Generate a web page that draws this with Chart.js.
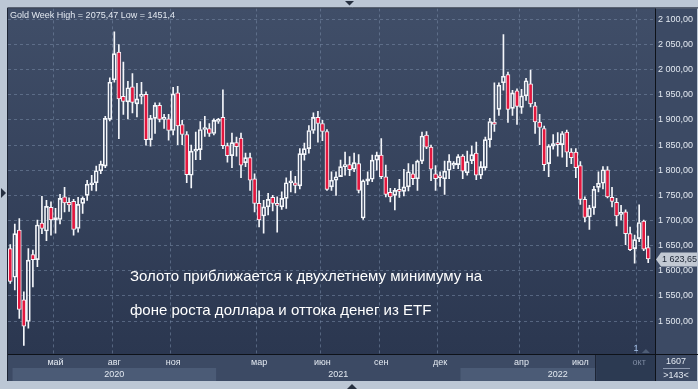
<!DOCTYPE html>
<html><head><meta charset="utf-8">
<script src="https://cdn.jsdelivr.net/npm/chart.js@4.4.1/dist/chart.umd.min.js"></script>
<style>html,body{margin:0;padding:0;background:#bcc7d5;overflow:hidden}</style>
</head><body><canvas id="c" width="698" height="389"></canvas>
<script>
// ---- data (weekly gold candles) ----
const barCount = 143; // visible slots (last one empty)
const categories = Array.from({length: barCount}, (_, i) => i + 1);
const opens = [
1644,1587,1681,1542,1499,1632,1622,1695,1679,1726,
1701,1702,1747,1736,1738,1684,1734,1750,1771,1775,
1799,1808,1901,1980,2035,1947,1936,1966,1932,1947,
1951,1861,1903,1929,1901,1902,1879,1954,1891,1871,
1790,1838,1841,1881,1883,1873,1897,1905,1849,1829,
1855,1864,1815,1825,1783,1734,1709,1727,1746,1734,
1727,1744,1775,1775,1769,1831,1843,1879,1905,1893,
1877,1767,1780,1787,1807,1811,1802,1813,1705,1778,
1782,1820,1830,1787,1756,1750,1762,1758,1767,1793,
1783,1818,1870,1846,1793,1788,1783,1800,1810,1811,
1828,1795,1819,1834,1790,1805,1861,1896,1921,1974,
1990,1923,1958,1925,1948,1972,1928,1896,1883,1813,
1848,1855,1851,1876,1836,1836,1809,1742,1707,1725,
1766,1774,1801,1746,1736,1712,1717,1674,1644,1664,
1699,1646];
const highs = [
1652,1693,1704,1558,1644,1641,1701,1748,1740,1737,
1724,1752,1766,1745,1742,1746,1747,1780,1790,1808,
1818,1907,1984,2075.47,2050,2015,1977,1992,1973,1975,
1956,1909,1934,1934,1911,1911,1965,1967,1899,1877,
1850,1876,1897,1907,1893,1902,1903,1960,1854,1874,
1866,1874,1834,1834,1793,1759,1740,1754,1750,1747,
1757,1785,1798,1788,1843,1854,1889,1914,1917,1899,
1881,1797,1797,1820,1836,1827,1834,1831,1781,1797,
1830,1836,1863,1810,1764,1764,1782,1802,1813,1811,
1820,1876,1877,1850,1809,1797,1818,1831,1817,1831,
1831,1838,1848,1856,1817,1866,1903,1974,1974,2070,
1995,1959,1962,1961,1983,1999,1935,1911,1888,1851,
1871,1875,1877,1880,1843,1843,1817,1747,1730,1768,
1797,1807,1807,1766,1744,1730,1721,1687,1671,1731,
1701,1669];
const lows = [
1575,1562,1505,1451.4,1486,1568,1608,1674,1660,1671,
1675,1693,1717,1718,1671,1677,1714,1740,1760,1759,
1793,1805,1898,1975,1863,1911,1902,1914,1906,1932,
1850,1848,1873,1896,1883,1860,1870,1851,1851,1775,
1765,1821,1821,1867,1867,1870,1893,1843,1816,1805,
1828,1785,1807,1760,1717,1687,1675,1711,1719,1677,
1722,1724,1757,1755,1763,1820,1834,1873,1856,1859,
1760,1760,1750,1790,1790,1789,1797,1755,1702,1771,
1777,1800,1783,1747,1737,1721,1746,1749,1759,1771,
1760,1813,1843,1779,1760,1768,1752,1783,1803,1803,
1783,1790,1813,1781,1783,1800,1846,1877,1909,1959,
1895,1909,1891,1913,1939,1926,1873,1851,1799,1787,
1842,1828,1826,1807,1813,1785,1732,1697,1682,1712,
1757,1763,1745,1727,1689,1701,1652,1640,1615,1658,
1640,1616];
const closes = [
1579,1674,1523,1490,1621,1622,1691,1684,1728,1701,
1706,1744,1735,1731,1682,1732,1744,1772,1774,1799,
1812,1903,1975,2032,1942,1937,1964,1935,1942,1951,
1861,1903,1929,1901,1905,1879,1952,1888,1871,1791,
1838,1841,1881,1884,1873,1899,1901,1849,1829,1855,
1847,1810,1825,1780,1734,1701,1727,1742,1734,1730,
1744,1775,1778,1770,1833,1843,1879,1905,1893,1877,
1762,1780,1787,1807,1811,1801,1815,1760,1779,1783,
1820,1830,1787,1752,1747,1760,1758,1767,1797,1783,
1818,1868,1846,1802,1783,1785,1798,1818,1813,1827,
1798,1817,1831,1790,1807,1861,1897,1891,1969,1987,
1921,1954,1927,1948,1978,1932,1896,1885,1811,1848,
1853,1851,1873,1836,1825,1805,1742,1706,1725,1762,
1774,1801,1747,1738,1709,1715,1674,1642,1662,1696,
1643,1623.65];
// x tick labels: bar index where the month starts
const monthTickIndex = [10, 23, 36, 55, 69, 82, 95, 113, 126, 139];
const monthTickLabel = ['май','авг','ноя','мар','июн','сен','дек','апр','июл','окт'];
const dimTickIndex = 139;
const yearLabels = ['2020', '2021', '2022'];
const yearFrom = [1, 46, 100];
const yearTo = [46, 100, 143];
const yearShaded = [true, false, true];
const yTicks = [1500,1550,1600,1650,1700,1750,1800,1850,1900,1950,2000,2050,2100];
const yMin = 1434.4, yMax = 2121.9;
const shadeFromIndex = 130;
const noteLines = ['Золото приближается к двухлетнему минимуму на', 'фоне роста доллара и оттока денег из ETF'];
const cornerTop = '1607', cornerBottom = '>143<';
const markerText = '1';

// ---- styling ----
const FONT = '"Liberation Sans", Arial, sans-serif';
const FRAME = '#bcc7d5', AXIS_BG = '#3c4a64', PLOT_TOP = '#404e68', PLOT_BOTTOM = '#2b3750';
const BAND = '#4b5b76', DARKBOX = '#2c3a52', GRID = 'rgba(120,138,165,0.55)';
const TXT = '#e3e9f1', RED = '#e3173e', WHITE = '#f4f6fa';

const fmt = (v, dec) => {
  const s = v.toFixed(dec).split('.');
  const n = s[0];
  const int = n.length > 3 ? n.slice(0, n.length - 3) + ' ' + n.slice(-3) : n;
  return int + ',' + s[1];
};
const bodyData = opens.map((o, i) => [o, closes[i]]);
const upperWick = highs.map((h, i) => [Math.max(opens[i], closes[i]), h]);
const lowerWick = lows.map((l, i) => [l, Math.min(opens[i], closes[i])]);
const monthSet = new Map(monthTickIndex.map((ix, k) => [ix, monthTickLabel[k]]));

const decor = {
  id: 'decor',
  beforeDraw(chart) {
    const {ctx, chartArea: a} = chart;
    const W = chart.width;
    const step = (a.right - a.left) / barCount;
    const edge = i => a.left + i * step;
    ctx.save();
    ctx.fillStyle = FRAME; ctx.fillRect(0, 0, W, chart.height);
    ctx.fillStyle = AXIS_BG; ctx.fillRect(a.left, a.top, W - a.left - 1, 381 - a.top);
    const g = ctx.createLinearGradient(0, a.top, 0, a.bottom);
    g.addColorStop(0, PLOT_TOP); g.addColorStop(1, PLOT_BOTTOM);
    ctx.fillStyle = g; ctx.fillRect(a.left, a.top, a.right - a.left, a.bottom - a.top);
    yearLabels.forEach((lab, k) => {
      if (yearShaded[k]) {
        ctx.fillStyle = BAND;
        ctx.fillRect(edge(yearFrom[k]), 368, edge(yearTo[k]) - edge(yearFrom[k]), 13);
      }
    });
    ctx.fillStyle = DARKBOX;
    ctx.fillRect(edge(shadeFromIndex), a.bottom + 1, a.right - edge(shadeFromIndex), 381 - a.bottom - 1);
    ctx.restore();
  },
  afterDraw(chart) {
    const {ctx, chartArea: a, scales: {y}} = chart;
    const W = chart.width;
    const step = (a.right - a.left) / barCount;
    const edge = i => a.left + i * step;
    ctx.save();
    ctx.font = '9px ' + FONT; ctx.fillStyle = TXT; ctx.textAlign = 'center'; ctx.textBaseline = 'middle';
    yearLabels.forEach((lab, k) => {
      ctx.fillText(lab, (edge(yearFrom[k]) + edge(yearTo[k])) / 2, 374.5);
    });
    ctx.strokeStyle = '#0e1219'; ctx.lineWidth = 1;
    ctx.beginPath();
    ctx.moveTo(a.left, Math.round(a.bottom) + 0.5); ctx.lineTo(W, Math.round(a.bottom) + 0.5);
    ctx.moveTo(Math.round(a.right) + 0.5, a.top); ctx.lineTo(Math.round(a.right) + 0.5, 381);
    ctx.stroke();
    ctx.strokeStyle = '#1d2535';
    ctx.beginPath();
    ctx.moveTo(a.left - 0.5, a.top - 0.5); ctx.lineTo(W, a.top - 0.5);
    ctx.moveTo(a.left - 0.5, a.top - 0.5); ctx.lineTo(a.left - 0.5, 381);
    ctx.moveTo(Math.round(edge(shadeFromIndex)) - 0.5, a.bottom + 1); ctx.lineTo(Math.round(edge(shadeFromIndex)) - 0.5, 381);
    ctx.stroke();
    const hi = Math.max(...highs), lo = Math.min(...lows);
    ctx.font = '9px ' + FONT; ctx.fillStyle = TXT; ctx.textAlign = 'left'; ctx.textBaseline = 'alphabetic';
    ctx.fillText('Gold Week High = ' + String(hi).replace('.', ',') + ' Low = ' + String(lo).replace('.', ','), 10, 17.5);
    ctx.font = '15px ' + FONT; ctx.fillStyle = '#ffffff'; ctx.textBaseline = 'middle';
    ctx.fillText(noteLines[0], 130, 277);
    ctx.fillText(noteLines[1], 130, 311);
    const last = closes[closes.length - 1];
    const py = Math.round(y.getPixelForValue(last)) + 0.5;
    const bx = Math.round(a.right) + 1;
    ctx.fillStyle = '#c2c9d3';
    ctx.beginPath();
    ctx.moveTo(bx, py); ctx.lineTo(bx + 5, py - 7); ctx.lineTo(W - 1, py - 7); ctx.lineTo(W - 1, py + 7); ctx.lineTo(bx + 5, py + 7);
    ctx.closePath(); ctx.fill();
    ctx.font = '9px ' + FONT; ctx.fillStyle = '#1b2433'; ctx.textBaseline = 'middle';
    ctx.fillText(fmt(last, 2), bx + 6, py);
    ctx.fillStyle = TXT; ctx.textAlign = 'center';
    ctx.fillText(cornerTop, 676, 362);
    ctx.fillText(cornerBottom, 676, 376);
    ctx.strokeStyle = '#8e9ab0'; ctx.beginPath(); ctx.moveTo(663, 368.5); ctx.lineTo(690, 368.5); ctx.stroke();
    const mx = edge(dimTickIndex);
    ctx.fillStyle = '#a9c6ee'; ctx.fillText(markerText, mx - 1, 349);
    ctx.fillStyle = '#4e5d76';
    ctx.beginPath(); ctx.moveTo(mx + 5, 353); ctx.lineTo(mx + 9, 349); ctx.lineTo(mx + 13, 353); ctx.closePath(); ctx.fill();
    ctx.fillStyle = '#263040';
    ctx.beginPath(); ctx.moveTo(345, 1); ctx.lineTo(354, 1); ctx.lineTo(349.5, 5.5); ctx.closePath(); ctx.fill();
    ctx.beginPath(); ctx.moveTo(1, 188); ctx.lineTo(6, 193); ctx.lineTo(1, 198); ctx.closePath(); ctx.fill();
    ctx.beginPath(); ctx.moveTo(347, 389); ctx.lineTo(357, 389); ctx.lineTo(352, 384); ctx.closePath(); ctx.fill();
    ctx.restore();
  }
};

new Chart(document.getElementById('c'), {
  type: 'bar',
  data: {
    labels: categories,
    datasets: [
      { label: 'body', data: bodyData, grouped: false, barThickness: 4, minBarLength: 2,
        borderWidth: 1, borderSkipped: false, borderColor: WHITE,
        backgroundColor: bodyData.map(d => d[1] < d[0] ? RED : 'rgba(0,0,0,0)') },
      { label: 'upper', data: upperWick, grouped: false, barThickness: 1, backgroundColor: WHITE, borderWidth: 0 },
      { label: 'lower', data: lowerWick, grouped: false, barThickness: 1, backgroundColor: WHITE, borderWidth: 0 }
    ]
  },
  options: {
    responsive: false, animation: false, devicePixelRatio: 1,
    layout: { padding: { left: 8, top: 8, right: 0, bottom: 7 } },
    plugins: { legend: { display: false }, tooltip: { enabled: false } },
    scales: {
      x: {
        type: 'category', offset: true,
        grid: { offset: true, drawTicks: false, lineWidth: 1,
          color: ctx => monthSet.has(ctx.index) ? GRID : 'rgba(0,0,0,0)' },
        border: { display: false, dash: [3, 3] },
        ticks: { autoSkip: false, maxRotation: 0, minRotation: 0, padding: 3,
          font: { family: FONT, size: 9 },
          color: ctx => ctx.index === dimTickIndex ? '#7d8aa1' : TXT,
          callback: (v, i) => monthSet.get(i) || '' },
        afterFit: s => { s.height = 28; }
      },
      y: {
        position: 'right', min: yMin, max: yMax,
        grid: { color: GRID, drawTicks: false, lineWidth: 1 },
        border: { display: false, dash: [3, 3] },
        ticks: { padding: 3, font: { family: FONT, size: 9 }, color: TXT, callback: v => fmt(v, 2) },
        afterBuildTicks: s => { s.ticks = yTicks.map(v => ({ value: v })); },
        afterFit: s => { s.width = 43; }
      }
    }
  },
  plugins: [decor]
});
</script></body></html>
